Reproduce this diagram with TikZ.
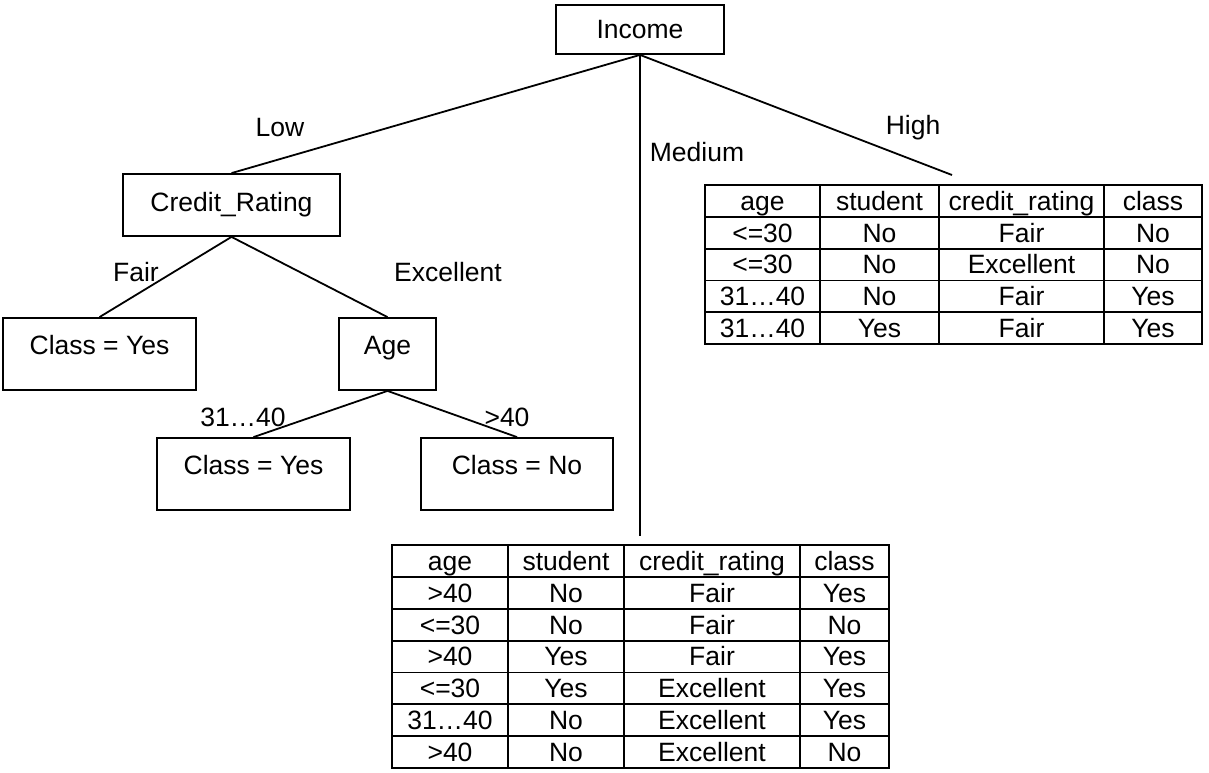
\documentclass[tikz,border=0pt]{standalone}
\usepackage{fontspec}
\setmainfont{Liberation Sans}
\begin{document}
\begin{tikzpicture}[x=1pt,y=-1pt,
  font=\fontsize{26.5}{31}\selectfont, line width=1.8pt,
  box/.style={draw, inner sep=0pt, line width=1.8pt},
  leaf/.style={box, text height=12pt, text depth=12pt},
  lbl/.style={inner sep=0pt},
  cell/.style={inner sep=0pt, text height=18.9pt, text depth=0pt},
  tab/.style={draw, line width=1.8pt, inner sep=0pt}]
\useasboundingbox (0,0) rectangle (1209,772);

% tree nodes
\node[box, minimum width=168pt, minimum height=49pt] (inc) at (640,29.5) {Income};
\node[box, minimum width=217pt, minimum height=62pt] (cr) at (231.5,205) {Credit\_Rating};
\node[leaf, minimum width=193pt, minimum height=72pt] (cy1) at (99.5,354) {Class = Yes};
\node[leaf, minimum width=97pt, minimum height=72pt] (age) at (387.5,354) {Age};
\node[leaf, minimum width=193pt, minimum height=72pt] (cy2) at (253.5,474) {Class = Yes};
\node[leaf, minimum width=192pt, minimum height=72pt] (cn) at (517,474) {Class = No};

% tables
\node[tab, minimum width=497pt, minimum height=159pt] (htab) at (953.5,264.5) {};
\node[tab, minimum width=497pt, minimum height=223pt] (mtab) at (640.5,656.5) {};
\coordinate (hend) at (952,175);
\coordinate (mend) at (640,536);

% connectors
\draw (inc.south) -- (cr.north);
\draw (inc.south) -- (mend);
\draw (inc.south) -- (hend);
\draw (cr.south) -- (cy1.north);
\draw (cr.south) -- (age.north);
\draw (age.south) -- (cy2.north);
\draw (age.south) -- (cn.north);

% branch labels
\node[lbl] (llow) at (280,128) {Low};
\node[lbl] (lmed) at (697,152) {Medium};
\node[lbl] (lhigh) at (913,128) {High};
\node[lbl] (lfair) at (136,272) {Fair};
\node[lbl] (lexc) at (448,272) {Excellent};
\node[lbl] (l3140) at (243,417) {31…40};
\node[lbl] (lgt40) at (507,417) {>40};

% high table grid
\foreach \xx in {820,939,1104} \draw (\xx,185) -- (\xx,344);
\foreach \yy in {216.8,248.6,280.4,312.2} \draw (705,\yy) -- (1202,\yy);
\foreach \y/\a/\b/\c/\d [count=\i] in {
  200.9/age/student/credit\_rating/class,
  232.7/<=30/No/Fair/No,
  264.5/<=30/No/Excellent/No,
  296.3/31…40/No/Fair/Yes,
  328.1/31…40/Yes/Fair/Yes}{
  \node[cell] (ha\i) at (762.5,\y) {\a};
  \node[cell] (hb\i) at (879.5,\y) {\b};
  \node[cell] (hc\i) at (1021.5,\y) {\c};
  \node[cell] (hd\i) at (1153,\y) {\d};
}

% medium table grid
\foreach \xx in {508,624,800} \draw (\xx,545) -- (\xx,768);
\foreach \yy in {576.9,608.7,640.6,672.4,704.3,736.1} \draw (392,\yy) -- (889,\yy);
\foreach \y/\a/\b/\c/\d [count=\i] in {
  560.9/age/student/credit\_rating/class,
  592.8/>40/No/Fair/Yes,
  624.6/<=30/No/Fair/No,
  656.5/>40/Yes/Fair/Yes,
  688.4/<=30/Yes/Excellent/Yes,
  720.2/31…40/No/Excellent/Yes,
  752.1/>40/No/Excellent/No}{
  \node[cell] (ma\i) at (450,\y) {\a};
  \node[cell] (mb\i) at (566,\y) {\b};
  \node[cell] (mc\i) at (712,\y) {\c};
  \node[cell] (md\i) at (844.5,\y) {\d};
}
\end{tikzpicture}
\end{document}
